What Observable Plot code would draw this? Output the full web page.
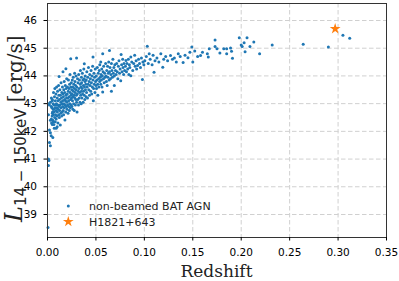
<!DOCTYPE html>
<html><head><meta charset="utf-8">
<script src="https://cdn.jsdelivr.net/npm/d3@7"></script>
<script src="https://cdn.jsdelivr.net/npm/@observablehq/plot@0.6"></script>
<style>html,body{margin:0;padding:0;background:#fff;}</style>
</head><body><div id="chart"></div>
<script>
// non-beamed BAT AGN: [redshift, log L(14-150 keV)]
const agn = [
[0.0005,38.53],[0.001,40.77],[0.0015,40.95],[0.001,41.0],[0.002,41.6],[0.003,41.48],[0.0038,41.84],[0.0055,41.78],[0.002,42.05],[0.003,41.95],[0.007,42.11],[0.009,42.11],[0.010,42.17],[0.001,42.6],[0.002,42.95],[0.003,43.05],[0.001,43.0],[0.004,42.45],[0.005,42.65],[0.004,42.9],[0.005,43.1],[0.006,42.35],[0.006,42.8],[0.005,42.25],[0.003,42.4],[0.004,43.2],
[0.0042,42.3],[0.0045,42.85],[0.0048,42.55],[0.005,43.15],[0.0052,42.7],[0.0055,42.4],[0.0058,43.0],[0.006,42.6],[0.0062,43.4],[0.0064,42.8],[0.0066,42.25],[0.0068,42.95],[0.007,42.7],[0.0072,43.25],[0.0074,42.5],[0.0076,43.55],[0.0078,42.85],[0.008,42.35],
[0.0081,43.1],[0.0083,42.6],[0.0085,42.95],[0.0087,43.35],[0.0089,42.75],[0.009,42.45],[0.0092,43.0],[0.0094,43.6],[0.0096,42.85],[0.0098,42.55],[0.01,43.2],[0.0102,42.7],[0.0104,43.45],[0.0106,42.95],[0.0108,42.3],[0.011,43.1],[0.0112,42.8],[0.0114,43.65],[0.0116,42.6],[0.0118,43.3],[0.012,42.9],[0.012,43.98],
[0.0122,42.5],[0.0124,43.15],[0.0126,42.75],[0.0128,43.5],[0.013,42.95],[0.0132,42.23],[0.0134,43.3],[0.0136,42.65],[0.0138,43.05],[0.014,43.75],[0.0142,42.85],[0.0144,43.2],[0.0146,42.55],[0.0148,43.4],[0.015,43.0],[0.0152,42.7],[0.0154,43.6],[0.0156,43.1],[0.0158,42.9],[0.016,44.15],[0.016,43.35],
[0.0162,42.75],[0.0164,43.25],[0.0166,42.6],[0.0168,43.5],[0.017,43.0],[0.0172,43.8],[0.0174,42.85],[0.0176,43.15],[0.0178,43.4],[0.018,42.41],[0.0182,42.95],[0.0184,43.65],[0.0186,43.1],[0.0188,42.7],[0.019,43.3],[0.019,44.26],[0.0192,43.55],[0.0194,42.9],[0.0196,43.2],[0.0198,43.9],[0.02,43.05],
[0.0202,42.8],[0.0204,43.35],[0.0206,43.6],[0.0208,42.95],[0.021,43.2],[0.0212,42.65],[0.0214,43.45],[0.0216,43.85],[0.0218,43.1],[0.022,42.9],[0.0222,43.55],[0.0224,43.25],[0.0226,42.75],[0.0228,43.7],[0.023,43.0],[0.0232,44.05],[0.0234,43.4],[0.0236,42.85],[0.0238,43.15],[0.024,44.62],[0.024,43.6],[0.0242,43.3],[0.0244,42.95],[0.0246,43.75],[0.0248,43.2],
[0.025,43.5],[0.0252,42.9],[0.0254,43.35],[0.0256,43.85],[0.0258,43.1],[0.026,43.6],[0.0262,42.8],[0.0264,43.25],[0.0266,43.95],[0.0268,43.45],[0.027,43.0],[0.0272,43.7],[0.0274,43.3],[0.0276,42.75],[0.0278,43.55],[0.028,44.1],[0.0282,43.2],[0.0284,43.8],[0.0286,43.4],[0.0288,42.95],[0.029,43.65],[0.0292,43.15],[0.0294,44.0],[0.0296,43.5],[0.0298,43.3],[0.03,44.65],[0.03,43.05],
[0.0302,43.6],[0.0305,42.7],[0.0308,43.35],[0.031,43.9],[0.0312,43.15],[0.0315,43.75],[0.0318,43.45],[0.032,42.95],[0.0322,44.05],[0.0325,43.55],[0.0328,43.2],[0.033,43.85],[0.0332,43.4],[0.0335,43.05],[0.0338,43.7],[0.034,44.2],[0.0342,43.3],[0.0345,43.6],[0.0348,43.0],[0.035,43.95],[0.035,43.45],
[0.0352,43.75],[0.0355,43.2],[0.0358,43.55],[0.036,44.1],[0.0362,43.35],[0.0365,43.85],[0.0368,43.05],[0.037,43.65],[0.0372,43.45],[0.0375,44.25],[0.0378,43.9],[0.038,43.3],[0.038,44.44],[0.0382,43.6],[0.0385,43.15],[0.0388,43.8],[0.039,44.0],[0.0392,43.5],[0.0395,43.7],[0.0398,43.25],
[0.04,43.85],[0.0403,43.4],[0.0406,44.15],[0.041,43.6],[0.0413,43.2],[0.0416,43.95],[0.042,43.7],[0.0423,44.3],[0.0426,43.5],[0.043,43.8],[0.0433,43.3],[0.0436,44.05],[0.044,43.65],[0.0443,43.9],[0.0446,43.45],[0.045,44.2],
[0.0453,43.75],[0.0456,43.35],[0.046,44.0],[0.0463,43.6],[0.0466,44.35],[0.047,44.68],[0.047,43.85],[0.0473,43.1],[0.0476,43.55],[0.048,44.1],[0.0483,43.7],[0.0486,43.95],[0.049,43.4],[0.0493,44.25],[0.0496,43.8],[0.05,43.65],
[0.0503,44.0],[0.0506,43.55],[0.051,43.85],[0.0514,44.3],[0.0518,43.7],[0.052,43.3],[0.0524,44.1],[0.0528,43.9],[0.053,43.6],[0.0534,44.2],[0.0538,43.8],[0.054,44.4],[0.0545,43.95],[0.055,44.5],[0.055,43.7],
[0.0553,44.05],[0.0556,43.85],[0.056,44.25],[0.0563,43.6],[0.0566,44.0],[0.057,44.8],[0.057,43.42],[0.0574,44.15],[0.0578,43.9],[0.058,44.35],[0.0585,43.75],[0.059,44.1],[0.0595,43.95],[0.06,44.45],
[0.0604,44.0],[0.0608,43.8],[0.0612,44.2],[0.0616,43.65],[0.062,44.35],[0.0624,43.95],[0.0628,44.1],[0.0632,44.5],[0.0636,43.85],[0.064,44.92],[0.064,44.15],[0.0645,44.3],[0.065,43.9],[0.0655,44.05],[0.066,44.45],[0.066,43.45],[0.0665,44.2],[0.067,43.95],[0.0675,44.6],[0.068,44.1],[0.0685,44.3],[0.069,43.65],[0.069,44.0],[0.0695,44.4],
[0.0702,44.2],[0.0708,44.05],[0.0714,44.45],[0.072,44.15],[0.0726,43.9],[0.0732,44.35],[0.0738,44.55],[0.0744,44.1],[0.075,44.25],[0.0756,43.83],[0.076,44.77],[0.0765,44.4],[0.077,44.15],[0.0776,44.6],[0.078,44.3],[0.0786,44.05],[0.079,44.45],[0.0796,44.2],
[0.0805,44.35],[0.081,44.56],[0.0815,44.15],[0.082,44.45],[0.0828,44.25],[0.0835,44.6],[0.084,44.05],[0.0845,44.4],[0.085,44.3],[0.086,44.68],[0.086,44.01],[0.087,44.5],[0.088,44.2],[0.089,44.45],[0.09,44.75],[0.0905,44.35],[0.0915,44.55],[0.092,44.25],[0.093,44.38],[0.094,44.6],[0.095,44.45],[0.096,44.3],[0.097,44.65],[0.098,43.87],[0.0985,44.5],[0.0995,44.4],
[0.1005,44.55],[0.102,44.7],[0.103,45.07],[0.104,44.45],[0.105,44.8],[0.106,44.6],[0.108,44.4],[0.109,44.75],[0.11,44.13],[0.111,44.55],[0.113,44.65],[0.115,44.5],[0.117,44.8],[0.119,44.31],[0.12,44.6],[0.122,44.7],[0.124,44.55],[0.127,44.74],[0.129,44.6],[0.131,44.65],[0.133,44.5],[0.135,44.8],[0.137,44.7],[0.14,44.48],[0.142,44.75],[0.145,44.66],[0.147,44.85],[0.149,45.04],[0.15,44.5],[0.152,44.9],
[0.155,44.7],[0.158,44.74],[0.16,44.85],[0.165,44.8],[0.167,44.98],[0.166,44.68],[0.173,45.3],[0.173,45.06],[0.175,44.98],[0.178,44.83],[0.182,44.98],[0.185,44.98],[0.189,45.01],[0.19,44.89],[0.185,44.8],[0.191,44.64],[0.198,45.38],[0.2,45.12],[0.201,45.06],[0.203,45.2],[0.206,45.38],[0.204,44.87],[0.209,45.06],[0.213,45.22],[0.219,44.8],[0.232,45.12],[0.264,45.14],[0.29,45.04],[0.305,45.47],[0.312,45.36]
];
const highlight = [{name: "H1821+643", z: 0.297, L: 45.70}];
const xTicks = [0, 0.05, 0.10, 0.15, 0.20, 0.25, 0.30, 0.35];
const yTicks = [39, 40, 41, 42, 43, 44, 45, 46];
const legendLabels = ["non-beamed BAT AGN", "H1821+643"];
const colors = ["#1f77b4", "#ff7f0e"];

const plot = Plot.plot({
  width: 399, height: 281,
  marginLeft: 47, marginRight: 13, marginTop: 3, marginBottom: 44,
  style: {fontFamily: "DejaVu Sans", fontSize: "10.5px", color: "#000", background: "#fff"},
  x: {domain: [0, 0.35]},
  y: {domain: [38.17, 46.613]},
  marks: [
    Plot.gridX(xTicks, {stroke: "#d0d0d0", strokeOpacity: 1, strokeDasharray: "4.5,2.5"}),
    Plot.gridY(yTicks, {stroke: "#d0d0d0", strokeOpacity: 1, strokeDasharray: "4.5,2.5"}),
    Plot.dot(agn, {x: d => d[0], y: d => d[1], r: 1.5, fill: colors[0], stroke: null}),
    Plot.dot(highlight, {x: "z", y: "L", symbol: "star", r: 3.4, fill: colors[1], stroke: null}),
    Plot.frame({stroke: "#333", strokeWidth: 1}),
    Plot.axisX(xTicks, {tickFormat: d3.format(".2f"), tickSize: 3.5, tickPadding: 8, label: null}),
    Plot.axisY(yTicks, {tickFormat: d3.format("d"), tickSize: 3.5, tickPadding: 7, label: null})
  ]
});
document.getElementById("chart").appendChild(plot);

const svg = d3.select(plot);
// x label
svg.append("text").attr("x", 216.5).attr("y", 276.5).attr("text-anchor", "middle")
  .attr("font-family", "DejaVu Serif").attr("font-size", 17).attr("fill", "#222").text("Redshift");
// y label
const yl = svg.append("text").attr("transform", "translate(22,222) rotate(-90)").attr("text-anchor", "start")
  .attr("font-family", "DejaVu Serif").attr("fill", "#222");
yl.append("tspan").attr("font-style", "italic").attr("font-size", 24).text("L");
yl.append("tspan").attr("font-family", "DejaVu Sans").attr("font-size", 15).attr("dy", 4).text("14 − 150keV");
yl.append("tspan").attr("font-size", 20).attr("dy", -4).text(" [erg/s]");
// legend
const lg = svg.append("g").attr("font-family", "DejaVu Sans").attr("font-size", 11).attr("fill", "#222").attr("text-anchor", "start");
lg.append("circle").attr("cx", 68.3).attr("cy", 206).attr("r", 1.5).attr("fill", colors[0]);
lg.append("path").attr("d", d3.symbol(d3.symbolStar, Math.PI * 3.4 * 3.4)()).attr("transform", "translate(68.3,221.7)").attr("fill", colors[1]);
lg.append("text").attr("x", 89).attr("y", 206).attr("dy", "0.35em").text(legendLabels[0]);
lg.append("text").attr("x", 89).attr("y", 221.7).attr("dy", "0.35em").text(legendLabels[1]);
</script></body></html>
